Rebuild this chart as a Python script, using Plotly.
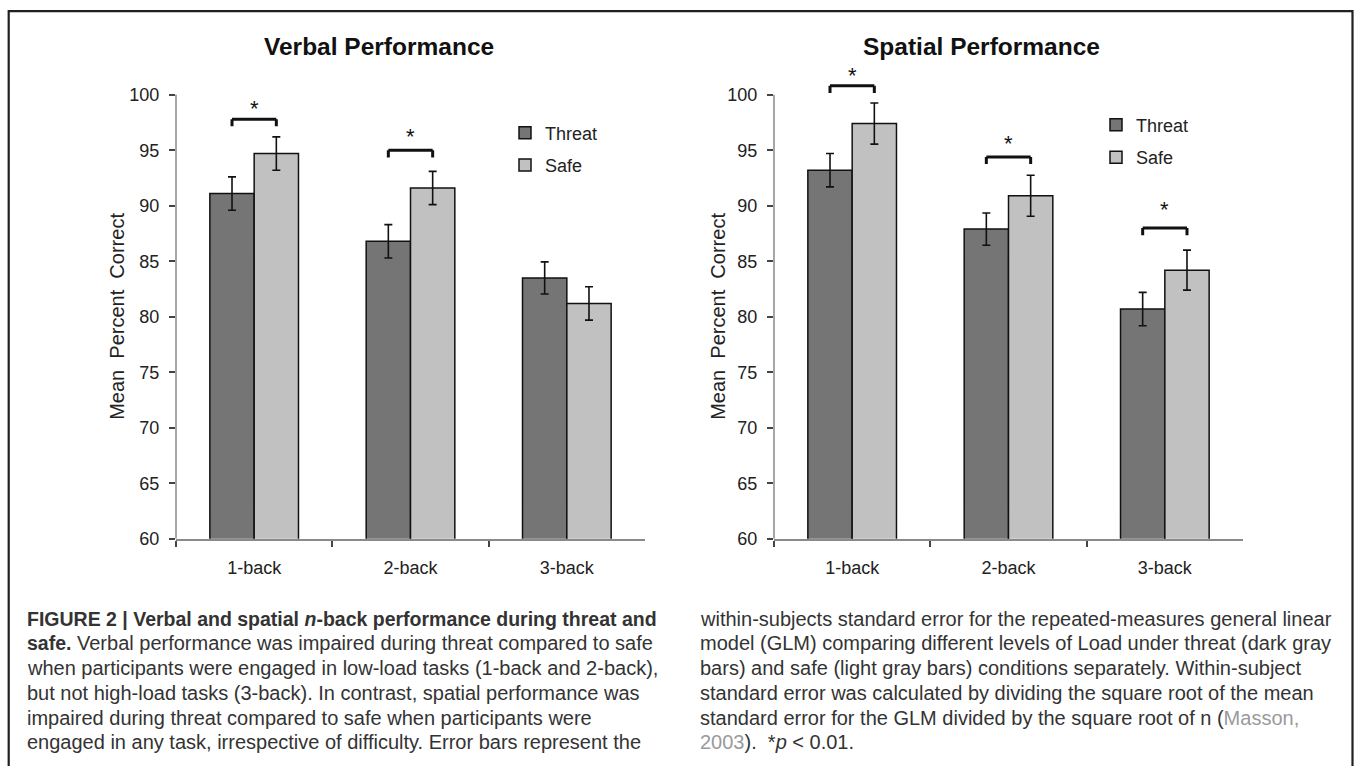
import plotly.graph_objects as go

# ---------------- data ----------------
categories = ["1-back", "2-back", "3-back"]

verbal_threat = [91.1, 86.8, 83.5]
verbal_safe = [94.7, 91.6, 81.2]
verbal_threat_err = [1.5, 1.5, 1.45]
verbal_safe_err = [1.5, 1.5, 1.5]

spatial_threat = [93.2, 87.9, 80.7]
spatial_safe = [97.4, 90.9, 84.2]
spatial_threat_err = [1.5, 1.45, 1.5]
spatial_safe_err = [1.85, 1.85, 1.8]

# significance brackets: category index, bracket height, star height
verbal_sig_idx = [0, 1]
verbal_sig_y = [97.8, 95.0]
verbal_star_y = [99.2, 96.7]
spatial_sig_idx = [0, 1, 2]
spatial_sig_y = [100.8, 94.4, 88.0]
spatial_star_y = [102.2, 96.1, 90.1]

y_ticks = [60, 65, 70, 75, 80, 85, 90, 95, 100]

caption_left = [
    "<b><span style='font-size:19.5px'>FIGURE 2 | Verbal and spatial <i>n</i>-back performance during threat and</span></b>",
    "<b><span style='font-size:19.5px'>safe.</span></b> Verbal performance was impaired during threat compared to safe",
    "when participants were engaged in low-load tasks (1-back and 2-back),",
    "but not high-load tasks (3-back). In contrast, spatial performance was",
    "impaired during threat compared to safe when participants were",
    "engaged in any task, irrespective of difficulty. Error bars represent the",
]
caption_right = [
    "within-subjects standard error for the repeated-measures general linear",
    "model (GLM) comparing different levels of Load under threat (dark gray",
    "bars) and safe (light gray bars) conditions separately. Within-subject",
    "standard error was calculated by dividing the square root of the mean",
    "standard error for the GLM divided by the square root of n (<span style='color:#9a9a9a'>Masson,</span>",
    "<span style='color:#9a9a9a'>2003</span>).  *<i>p</i> &lt; 0.01.",
]

# ---------------- layout helpers ----------------
W, H = 1355, 766


def px(x):
    return x / W


def py(y):
    return 1 - y / H


FONT = "Liberation Sans, Arial, Helvetica, sans-serif"
DARK = "#757575"
LIGHT = "#c1c1c1"
AXIS_GRAY = "#8a8a8a"
BARGAP = 0.433
half_w = (1 - BARGAP) / 4.0  # offset of each bar centre from category centre

Y_RANGE = [60, 103.5]
Y_DOMAIN = [py(546), py(56.6)]
X_DOMAINS = [[px(176), px(645)], [px(774), px(1243)]]

fig = go.Figure()

panels = [
    ("x", "y", "legend", verbal_threat, verbal_safe, verbal_threat_err, verbal_safe_err,
     verbal_sig_idx, verbal_sig_y, verbal_star_y),
    ("x2", "y2", "legend2", spatial_threat, spatial_safe, spatial_threat_err, spatial_safe_err,
     spatial_sig_idx, spatial_sig_y, spatial_star_y),
]

shapes = []
annotations = []

for xa, ya, lg, thr, saf, thr_e, saf_e, sig_idx, sig_y, star_y in panels:
    fig.add_trace(go.Bar(
        x=categories, y=thr, name="Threat", xaxis=xa, yaxis=ya, legend=lg,
        legendgroup=lg + "t",
        marker=dict(color=DARK, line=dict(color="#111111", width=1.5)),
        error_y=dict(type="data", array=thr_e, color="#111111", thickness=1.6, width=4),
    ))
    fig.add_trace(go.Bar(
        x=categories, y=saf, name="Safe", xaxis=xa, yaxis=ya, legend=lg,
        legendgroup=lg + "s",
        marker=dict(color=LIGHT, line=dict(color="#111111", width=1.5)),
        error_y=dict(type="data", array=saf_e, color="#111111", thickness=1.6, width=4),
    ))
    # y axis line (only from 60 to 100)
    shapes.append(dict(type="line", xref=xa + " domain", yref=ya, x0=0, x1=0,
                       y0=y_ticks[0], y1=y_ticks[-1],
                       line=dict(color=AXIS_GRAY, width=1.5), layer="above"))
    # significance brackets
    for ci, by, sy in zip(sig_idx, sig_y, star_y):
        x0, x1 = ci - half_w, ci + half_w
        leg = 0.65
        for (ax0, ay0, ax1, ay1) in [(x0, by - leg, x0, by), (x0, by, x1, by), (x1, by, x1, by - leg)]:
            shapes.append(dict(type="line", xref=xa, yref=ya, x0=ax0, y0=ay0, x1=ax1, y1=ay1,
                               line=dict(color="#111111", width=3)))
        annotations.append(dict(xref=xa, yref=ya, x=ci, y=sy, text="*", showarrow=False,
                                yanchor="middle", yshift=-5,
                                font=dict(family=FONT, size=22, color="#111111")))

# titles
title_font = dict(family=FONT, size=24.5, color="#111111")
annotations.append(dict(xref="paper", yref="paper", x=px(379), y=py(47), text="<b>Verbal Performance</b>",
                        showarrow=False, xanchor="center", yanchor="middle", font=title_font))
annotations.append(dict(xref="paper", yref="paper", x=px(981), y=py(47), text="<b>Spatial Performance</b>",
                        showarrow=False, xanchor="center", yanchor="middle", font=title_font))
# y axis titles
for xp in (px(117), px(718)):
    annotations.append(dict(xref="paper", yref="paper", x=xp, y=py(321), text="Mean  Percent  Correct",
                            showarrow=False, textangle=-90, xanchor="center", yanchor="middle",
                            font=dict(family=FONT, size=20, color="#222222")))

# caption
cap_font = dict(family=FONT, size=20, color="#333333")
line_y0, line_dy = 627, 25
for i, t in enumerate(caption_left):
    annotations.append(dict(xref="paper", yref="paper", x=px(25), y=py(line_y0 + i * line_dy),
                            text=t, showarrow=False, xanchor="left", yanchor="middle", align="left",
                            font=cap_font))
for i, t in enumerate(caption_right):
    annotations.append(dict(xref="paper", yref="paper", x=px(698), y=py(line_y0 + i * line_dy),
                            text=t, showarrow=False, xanchor="left", yanchor="middle", align="left",
                            font=cap_font))

# frame
shapes.append(dict(type="rect", xref="paper", yref="paper", x0=px(8.7), x1=px(1352.5),
                   y0=-0.05, y1=py(11.3), line=dict(color="#231f20", width=2.2)))

axis_font = dict(family=FONT, size=18, color="#222222")
xaxis_common = dict(type="category", showline=True, linecolor=AXIS_GRAY, linewidth=1.5,
                    ticks="outside", tickson="boundaries", ticklen=6, tickcolor="#444444", tickwidth=1.5,
                    tickfont=axis_font, showgrid=False, zeroline=False, ticklabelstandoff=12,
                    fixedrange=True)
yaxis_common = dict(range=Y_RANGE, domain=Y_DOMAIN, tickvals=y_ticks, showline=False,
                    ticks="outside", ticklen=6, tickcolor="#444444", tickwidth=1.5,
                    tickfont=axis_font, showgrid=False, zeroline=False, ticklabelstandoff=6)

legend_common = dict(font=dict(family=FONT, size=18, color="#222222"), bgcolor="rgba(0,0,0,0)",
                     tracegroupgap=6, itemclick=False, xanchor="left", yanchor="top")

fig.update_layout(
    width=W, height=H,
    margin=dict(l=0, r=0, t=0, b=0),
    paper_bgcolor="white", plot_bgcolor="white",
    barmode="group", bargap=BARGAP, bargroupgap=0,
    xaxis=dict(domain=X_DOMAINS[0], anchor="y", **xaxis_common),
    yaxis=dict(anchor="x", **yaxis_common),
    xaxis2=dict(domain=X_DOMAINS[1], anchor="y2", **xaxis_common),
    yaxis2=dict(anchor="x2", **yaxis_common),
    legend=dict(x=px(505), y=py(116), **legend_common),
    legend2=dict(x=px(1096), y=py(108), **legend_common),
    shapes=shapes,
    annotations=annotations,
    showlegend=True,
    hovermode=False,
)

# remove the default page margin so the figure fills the window exactly
fig.write_html("out.html", config={"displayModeBar": False},
               post_script="document.body.style.margin='0px';")
